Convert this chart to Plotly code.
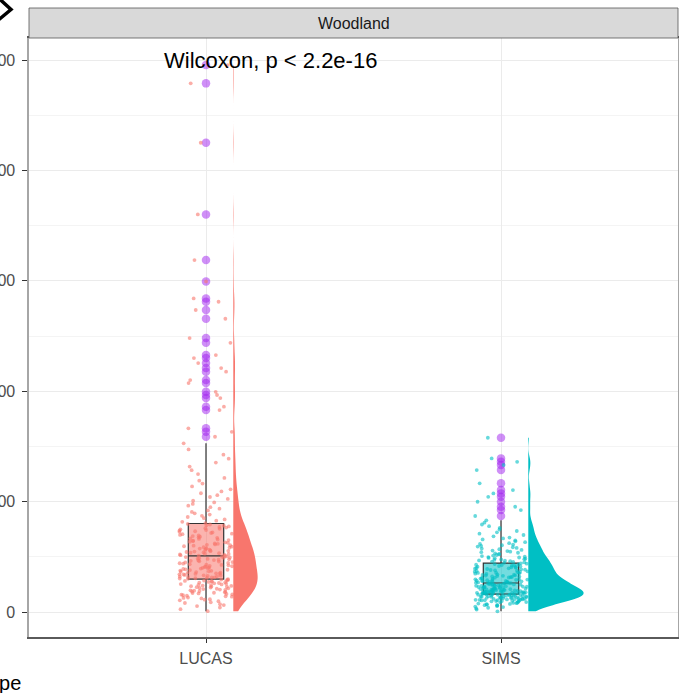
import numpy as np
import plotly.graph_objects as go

# ---------------- data ----------------
categories = ["LUCAS", "SIMS"]
facet_label = "Woodland"
stat_label = "Wilcoxon, p < 2.2e-16"
legend_title = "Type"
y_tick_vals = [0, 100, 200, 300, 400, 500]
y_tick_text = ["0", "100", "200", "300", "400", "500"]

lucas_values = [
    0.8, 2.6, 4.1,
    5.4, 6.3, 7.1, 8.2, 8.9, 9.8, 10.6,
    11.2, 11.7, 12.3, 12.8, 13.2, 13.9, 14.3, 14.8, 15.2, 15.7, 16.1, 16.4, 16.9,
    17.2, 17.5, 17.9, 18.3, 18.6, 19.0, 19.4, 19.7, 20.1, 20.4, 20.8, 21.1, 21.5, 21.8, 22.2, 22.5, 22.9,
    23.1, 23.4, 23.7, 24.0, 24.4, 24.7, 25.0, 25.3, 25.7, 26.0, 26.3, 26.6, 27.0, 27.3, 27.6, 27.9,
    28.2, 28.5, 28.8, 29.1, 29.4, 29.7,
    30.1, 30.4, 30.6, 30.9, 31.3, 31.5, 31.8, 32.2, 32.4, 32.7, 33.1, 33.3, 33.6, 34.0, 34.2, 34.5, 34.8,
    35.1, 35.5, 35.8, 36.2, 36.5, 36.9, 37.3, 37.6, 38.0, 38.3, 38.7, 39.0, 39.4, 39.7, 40.1, 40.4, 40.8,
    41.2, 41.5, 41.9, 42.3, 42.7, 43.0, 43.4, 43.8, 44.2, 44.5, 44.9, 45.3, 45.7, 46.0, 46.4, 46.8,
    47.1, 47.4, 47.8, 48.1, 48.4, 48.8, 49.1, 49.4, 49.8, 50.1, 50.4, 50.8,
    51.1, 51.5, 51.8, 52.2, 52.6, 52.9, 53.3, 53.7, 54.0, 54.4, 54.8, 55.1, 55.5, 55.8,
    56.2, 56.6, 57.1, 57.5, 57.9, 58.3, 58.8, 59.2, 59.6, 60.1, 60.5, 60.9, 61.3, 61.8,
    62.2, 62.7, 63.2, 63.7, 64.2, 64.7, 65.2, 65.7, 66.2, 66.7, 67.2, 67.7,
    68.3, 68.8, 69.4, 69.9, 70.5, 71.0, 71.6, 72.1, 72.7, 73.2, 73.8,
    74.3, 74.9, 75.4, 76.0, 76.5, 77.1, 77.6, 78.2, 78.7, 79.3, 79.8,
    80.6, 81.7, 82.8, 83.9, 85.0, 86.1, 87.2, 88.3, 89.4,
    90.7, 92.1, 93.6, 95.0, 96.4, 97.9, 99.3,
    100.8, 102.5, 104.2, 105.9, 107.6, 109.3,
    111.2, 113.8, 116.4, 119.0,
    121.5, 125.0, 128.5,
    131.8, 135.4, 138.9,
    142.6, 147.3, 152.8,
    158.8, 163.3, 166.4, 183.0, 186.0, 193.8, 196.6, 199.5, 207.4, 210.1, 217.7, 221.0, 225.5,
    230.1, 232.8, 243.9, 248.2, 265.7, 273.6, 281.1, 284.1, 299.5, 318.8, 360.2, 425.1, 478.9, 495.5,
]

sims_values = [
    0.7, 2.2,
    3.3, 3.9, 4.5, 5.0, 5.4, 5.9,
    6.2, 6.5, 6.8, 7.1, 7.4, 7.7, 8.0, 8.3, 8.5, 8.8, 9.0, 9.3, 9.5, 9.7, 9.9,
    10.1, 10.2, 10.4, 10.5, 10.7, 10.8, 11.0, 11.1, 11.3, 11.4, 11.6, 11.7, 11.9, 12.0, 12.2, 12.3,
    12.5, 12.6, 12.8, 12.9,
    13.0, 13.2, 13.3, 13.4, 13.6, 13.7, 13.8, 14.0, 14.1, 14.2, 14.4, 14.5, 14.6, 14.8, 14.9, 15.0,
    15.2, 15.3, 15.4, 15.6, 15.7, 15.8, 16.0, 16.1, 16.2,
    16.4, 16.5, 16.6, 16.8, 16.9, 17.0, 17.1, 17.3, 17.4, 17.5, 17.6, 17.8, 17.9, 18.0, 18.1, 18.2,
    18.3, 18.4, 18.5, 18.6, 18.7, 18.8, 18.9,
    19.1, 19.2, 19.4, 19.5, 19.7, 19.8, 19.9, 20.1, 20.2, 20.4, 20.5, 20.7, 20.8, 21.0, 21.1, 21.3,
    21.4, 21.6, 21.7, 21.9,
    22.0, 22.2, 22.4, 22.5, 22.7, 22.9, 23.1, 23.2, 23.4, 23.6, 23.8, 23.9, 24.1, 24.3, 24.5, 24.6,
    24.8, 25.0, 25.2, 25.3, 25.5, 25.7, 25.9, 26.0, 26.2,
    26.4, 26.6, 26.8, 27.0, 27.2, 27.4, 27.6, 27.8, 28.0, 28.2, 28.4, 28.6, 28.8, 29.0, 29.2, 29.4,
    29.6, 29.8,
    30.1, 30.3, 30.6, 30.8, 31.1, 31.3, 31.6, 31.8, 32.1, 32.3, 32.6, 32.8, 33.1, 33.3, 33.6, 33.8,
    34.2, 34.5, 34.8, 35.1, 35.4, 35.7, 36.0, 36.3, 36.6, 36.9, 37.2, 37.5, 37.8,
    38.1, 38.4, 38.7, 39.0, 39.3, 39.6, 39.9, 40.2, 40.5, 40.8, 41.1, 41.4, 41.7, 42.0, 42.3, 42.6,
    42.9, 43.2, 43.5, 43.8, 44.1,
    44.6, 45.0, 45.4, 45.7, 46.1, 46.5, 46.8, 47.2, 47.6, 47.9, 48.3, 48.7, 49.0, 49.4, 49.8,
    50.2, 50.7, 51.2, 51.7, 52.2, 52.7, 53.2, 53.7, 54.2, 54.7, 55.2, 55.7,
    56.3, 56.9, 57.5, 58.1, 58.7, 59.3, 59.9, 60.5, 61.1, 61.7,
    62.4, 63.3, 64.1, 65.0, 65.8, 66.7, 67.5,
    68.6, 69.8, 71.0, 72.2, 73.4,
    74.8, 76.3, 77.8, 79.3,
    81.0, 83.1,
    87.0, 92.4, 95.4, 99.9, 104.4, 107.5, 110.5, 116.6, 128.6, 133.2, 136.1, 139.2, 157.9,
]

group_values = [lucas_values, sims_values]
group_colors = ["#F8766D", "#00BFC4"]
group_fills = ["rgba(248,118,109,0.55)", "rgba(0,191,196,0.55)"]
violin_widths = [0.165, 0.375]
violin_bandwidths = [8, 4.2]
outlier_color = "rgba(160,32,240,0.5)"

# ---------------- figure ----------------
W, H = 679, 693
ML, MR, MT, MB = 29, 1, 38, 56
PW, PH = W - ML - MR, H - MT - MB
FONT = "Liberation Sans, Arial, sans-serif"


def px_to_paper(px, py):
    return (px - ML) / PW, 1 - (py - MT) / PH


def jitter_offsets(n, seed, half_width=0.09):
    i = np.arange(n) + seed
    u = np.sin(i * 12.9898 + seed * 78.233) * 43758.5453
    u = u - np.floor(u)
    return (u * 2 - 1) * half_width


fig = go.Figure()
positions = np.arange(1, len(categories) + 1)

for k, (pos, vals) in enumerate(zip(positions, group_values)):
    fig.add_trace(go.Violin(
        y=vals, x0=pos + 0.0925, side="positive", width=violin_widths[k],
        points=False, box_visible=False, meanline_visible=False,
        fillcolor=group_colors[k], line=dict(width=0, color=group_colors[k]),
        spanmode="hard", bandwidth=violin_bandwidths[k], opacity=1,
        hoverinfo="skip", showlegend=False,
    ))

for k, (pos, vals) in enumerate(zip(positions, group_values)):
    xs = pos + jitter_offsets(len(vals), seed=17 + 31 * k)
    fig.add_trace(go.Scatter(
        x=xs, y=vals, mode="markers",
        marker=dict(size=3.8, color=group_colors[k], opacity=0.6, line=dict(width=0)),
        hoverinfo="skip", showlegend=False,
    ))

for k, (pos, vals) in enumerate(zip(positions, group_values)):
    fig.add_trace(go.Box(
        y=vals, x0=pos, width=0.12, fillcolor=group_fills[k],
        line=dict(color="#333333", width=1.2), whiskerwidth=0,
        boxpoints="outliers", pointpos=0, jitter=0,
        marker=dict(color=outlier_color, size=8.5, line=dict(width=0)),
        hoverinfo="skip", showlegend=False,
    ))

_, sy1 = px_to_paper(ML, 8)
shapes = [
    # facet strip
    dict(type="rect", xref="paper", yref="paper", x0=0, x1=1, y0=1, y1=sy1,
         fillcolor="#D9D9D9", line=dict(color="#555555", width=0.8), layer="above"),
]
# fragment of a neighbouring panel's glyph at the top-left corner
p0 = px_to_paper(-1, -1.5)
p1 = px_to_paper(11, 9.5)
p2 = px_to_paper(-1, 19.5)
shapes.append(dict(type="path", xref="paper", yref="paper",
                   path=f"M {p0[0]},{p0[1]} L {p1[0]},{p1[1]} L {p2[0]},{p2[1]}",
                   line=dict(color="black", width=3.5)))

_, strip_mid = px_to_paper(0, 23)
tx, ty = px_to_paper(22.5, 683)
annotations = [
    dict(text=facet_label, xref="paper", yref="paper", x=0.5, y=strip_mid,
         showarrow=False, font=dict(family=FONT, size=16, color="#1A1A1A"),
         xanchor="center", yanchor="middle"),
    dict(text=stat_label, xref="x", yref="y", x=0.851, y=500,
         showarrow=False, font=dict(family=FONT, size=22, color="black"),
         xanchor="left", yanchor="middle"),
    dict(text=legend_title, xref="paper", yref="paper", x=tx, y=ty,
         showarrow=False, font=dict(family=FONT, size=20, color="black"),
         xanchor="right", yanchor="middle"),
]

fig.update_layout(
    width=W, height=H, autosize=False,
    margin=dict(l=ML, r=MR, t=MT, b=MB, pad=0),
    paper_bgcolor="white", plot_bgcolor="white",
    boxmode="overlay", violinmode="overlay",
    showlegend=False, hovermode=False,
    shapes=shapes, annotations=annotations,
    font=dict(family=FONT),
    xaxis=dict(
        range=[0.4, 2.6], tickvals=list(positions), ticktext=categories,
        showgrid=True, gridcolor="#EBEBEB", gridwidth=1, zeroline=False,
        showline=True, linecolor="#5A5A5A", linewidth=1.6, mirror=True,
        ticks="outside", ticklen=4, tickcolor="#333333", tickwidth=1,
        ticklabelstandoff=2,
        tickfont=dict(family=FONT, size=16, color="#4D4D4D"), automargin=False,
    ),
    yaxis=dict(
        range=[-22.6, 520], tickvals=y_tick_vals, ticktext=y_tick_text,
        showgrid=True, gridcolor="#EBEBEB", gridwidth=1, zeroline=False,
        showline=True, linecolor="#A6A6A6", linewidth=1.6, mirror=True,
        ticks="outside", ticklen=5, tickcolor="#333333", tickwidth=1,
        ticklabelstandoff=4,
        tickfont=dict(family=FONT, size=16, color="#4D4D4D"), automargin=False,
        minor=dict(dtick=50, tick0=0, showgrid=True, gridcolor="#F4F4F4", gridwidth=1, ticklen=0),
    ),
)

fig.write_html(
    "out.html",
    config={"displayModeBar": False, "staticPlot": True},
    post_script=(
        "document.body.style.margin='0';document.body.style.padding='0';"
        "document.body.style.overflow='hidden';"
        "document.documentElement.style.overflow='hidden';"
    ),
)
